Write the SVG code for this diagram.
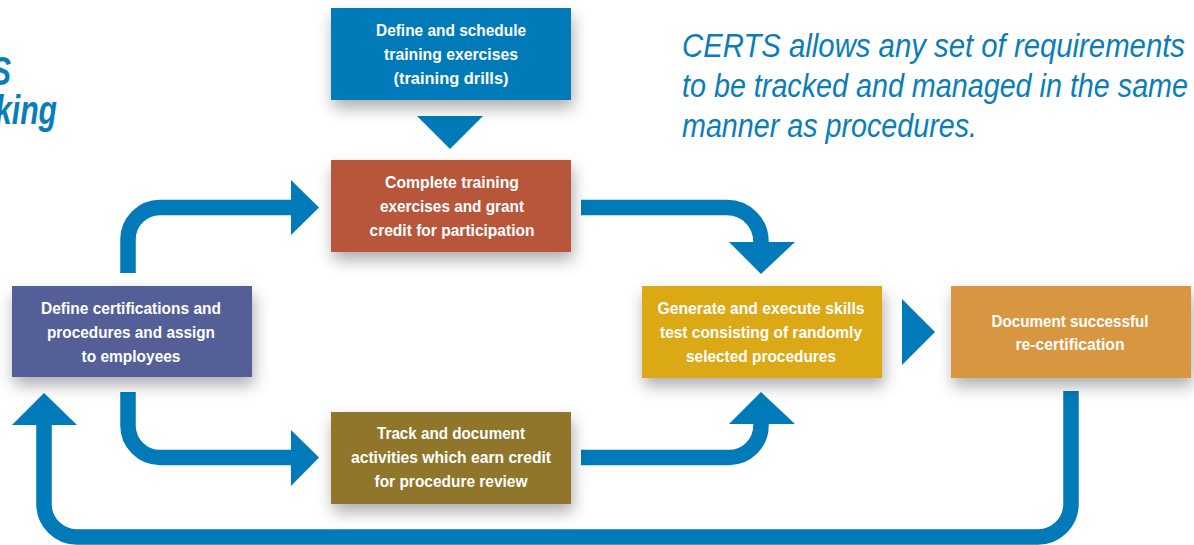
<svg xmlns="http://www.w3.org/2000/svg" width="1194" height="545" viewBox="0 0 1194 545">
<defs>
<filter id="sh" x="-20%" y="-30%" width="140%" height="170%">
<feDropShadow dx="2" dy="8" stdDeviation="8" flood-color="#000" flood-opacity="0.32"/>
</filter>
<style>
.box{filter:url(#sh);}
.lbl{font-family:"Liberation Sans",Arial,sans-serif;font-weight:bold;font-size:16.5px;fill:#fff;text-anchor:middle;}
.note{font-family:"Liberation Sans",Arial,sans-serif;font-style:italic;font-size:33px;fill:#0a7db9;}
.ttl{font-family:"Liberation Sans",Arial,sans-serif;font-style:italic;font-weight:bold;font-size:40px;fill:#0a7db9;text-anchor:end;}
.line{fill:none;stroke:#007ab8;stroke-width:15.5;}
.head{fill:#007ab8;}
</style>
</defs>
<rect width="1194" height="545" fill="#fff"/>

<g id="title">
<text class="ttl" x="11" y="85" textLength="20" lengthAdjust="spacingAndGlyphs">S</text>
<text class="ttl" x="57" y="124" textLength="62" lengthAdjust="spacingAndGlyphs">king</text>
</g>

<g id="note">
<text class="note" x="682" y="57" textLength="503" lengthAdjust="spacingAndGlyphs">CERTS allows any set of requirements</text>
<text class="note" x="682" y="97" textLength="506" lengthAdjust="spacingAndGlyphs">to be tracked and managed in the same</text>
<text class="note" x="682" y="137" textLength="295" lengthAdjust="spacingAndGlyphs">manner as procedures.</text>
</g>

<g id="connectors">
<path class="line" d="M128,273 V239.5 A32,32 0 0 1 160,207.5 H293"/>
<polygon class="head" points="291,180 319,207.5 291,235"/>
<path class="line" d="M581,207.5 H727 A34,34 0 0 1 761,241.5 V244"/>
<polygon class="head" points="729,242 795,242 761,274"/>
<path class="line" d="M128,392 V425.5 A32,32 0 0 0 160,457.5 H293"/>
<polygon class="head" points="291,430 319,457.5 291,486"/>
<path class="line" d="M581,457.5 H729 A32,32 0 0 0 761,425.5 V422"/>
<polygon class="head" points="729,424 795,424 761,392"/>
<path class="line" d="M1071,391 V504 A33,33 0 0 1 1038,537 H77 A33,33 0 0 1 44,504 V423"/>
<polygon class="head" points="12,425 77,425 44,393"/>
<polygon class="head" points="417,116 483,116 450,149"/>
<polygon class="head" points="902,299 935,332 902,365"/>
</g>

<g id="n-define-schedule">
<rect class="box" x="331" y="8" width="240" height="92" fill="#007ab8"/>
<text class="lbl" x="451" y="36" textLength="150" lengthAdjust="spacingAndGlyphs">Define and schedule</text>
<text class="lbl" x="451" y="60" textLength="134" lengthAdjust="spacingAndGlyphs">training exercises</text>
<text class="lbl" x="451" y="84" textLength="115" lengthAdjust="spacingAndGlyphs">(training drills)</text>
</g>

<g id="n-complete-training">
<rect class="box" x="331" y="160" width="240" height="92" fill="#b8573a"/>
<text class="lbl" x="452" y="188" textLength="134" lengthAdjust="spacingAndGlyphs">Complete training</text>
<text class="lbl" x="452" y="212" textLength="144" lengthAdjust="spacingAndGlyphs">exercises and grant</text>
<text class="lbl" x="452" y="236" textLength="165" lengthAdjust="spacingAndGlyphs">credit for participation</text>
</g>

<g id="n-define-cert">
<rect class="box" x="12" y="286" width="240" height="91" fill="#535f96"/>
<text class="lbl" x="131" y="314" textLength="180" lengthAdjust="spacingAndGlyphs">Define certifications and</text>
<text class="lbl" x="131" y="338" textLength="168" lengthAdjust="spacingAndGlyphs">procedures and assign</text>
<text class="lbl" x="131" y="362" textLength="99" lengthAdjust="spacingAndGlyphs">to employees</text>
</g>

<g id="n-track">
<rect class="box" x="331" y="412" width="240" height="92" fill="#8f762c"/>
<text class="lbl" x="451" y="439" textLength="148" lengthAdjust="spacingAndGlyphs">Track and document</text>
<text class="lbl" x="451" y="463" textLength="200" lengthAdjust="spacingAndGlyphs">activities which earn credit</text>
<text class="lbl" x="451" y="487" textLength="153" lengthAdjust="spacingAndGlyphs">for procedure review</text>
</g>

<g id="n-generate">
<rect class="box" x="642" y="286" width="240" height="92" fill="#dba913"/>
<text class="lbl" x="761" y="314" textLength="207" lengthAdjust="spacingAndGlyphs">Generate and execute skills</text>
<text class="lbl" x="761" y="338" textLength="202" lengthAdjust="spacingAndGlyphs">test consisting of randomly</text>
<text class="lbl" x="761" y="362" textLength="150" lengthAdjust="spacingAndGlyphs">selected procedures</text>
</g>

<g id="n-document">
<rect class="box" x="951" y="286" width="240" height="92" fill="#d99641"/>
<text class="lbl" x="1070" y="327" textLength="157" lengthAdjust="spacingAndGlyphs">Document successful</text>
<text class="lbl" x="1070" y="350" textLength="109" lengthAdjust="spacingAndGlyphs">re-certification</text>
</g>
</svg>
